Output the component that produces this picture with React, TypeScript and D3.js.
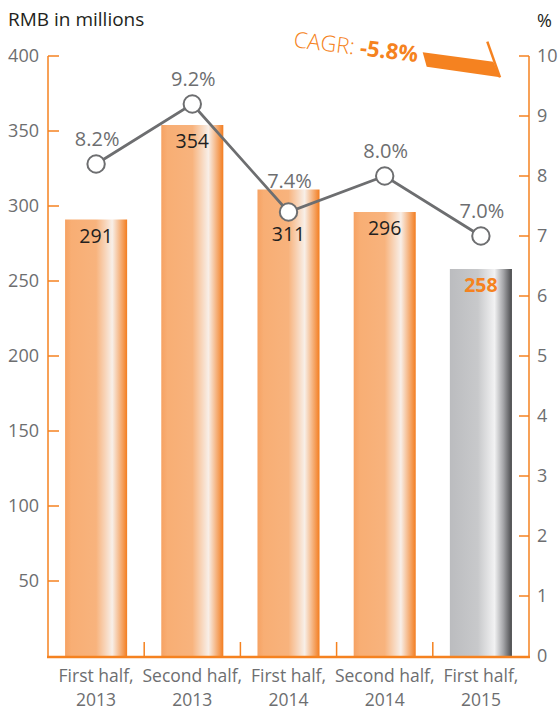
import React from "react";
import * as d3 from "d3";

const categories = ["First half, 2013", "Second half, 2013", "First half, 2014", "Second half, 2014", "First half, 2015"];
const revenue = [291, 354, 311, 296, 258];
const growth = [8.2, 9.2, 7.4, 8.0, 7.0];
const leftTicks = [50, 100, 150, 200, 250, 300, 350, 400];
const rightTicks = [0, 1, 2, 3, 4, 5, 6, 7, 8, 9, 10];
const highlightIndex = 4;
const leftTitle = "RMB in millions";
const rightTitle = "%";
const cagrLabel = "CAGR: ";
const cagrValue = "-5.8%";

const W = 560;
const H = 710;
const ORANGE = "#F58220";
const GRAY = "#6D6E70";
const DARK = "#231F20";
const FONT = "'Open Sans', 'Noto Sans', sans-serif";

export default function App() {
  const x = d3.scaleBand<string>().domain(categories).range([48, 529]).paddingInner(0.355).paddingOuter(0.1775);
  const yL = d3.scaleLinear().domain([0, 400]).range([656, 56]);
  const yR = d3.scaleLinear().domain([0, 10]).range([656, 56]);
  const baseY = 657;
  const step = x.step();
  const bw = x.bandwidth();
  const cx = (c: string) => (x(c) ?? 0) + bw / 2;
  const R = 8.7;

  const line = d3
    .line<number>()
    .x((_, i) => cx(categories[i]))
    .y((d) => yR(d));

  return (
    <svg width={W} height={H} style={{ position: "absolute", left: 0, top: 0, fontFamily: FONT }}>
      <defs>
        <linearGradient id="gOrange" x1="0" x2="1" y1="0" y2="0">
          <stop offset="0" stopColor="#F6A263" />
          <stop offset="0.1" stopColor="#F8AE74" />
          <stop offset="0.5" stopColor="#F8B37D" />
          <stop offset="0.76" stopColor="#F8EFE8" />
          <stop offset="1" stopColor="#F37D20" />
        </linearGradient>
        <linearGradient id="gGray" x1="0" x2="1" y1="0" y2="0">
          <stop offset="0" stopColor="#BBBCBF" />
          <stop offset="0.45" stopColor="#C8C9CB" />
          <stop offset="0.72" stopColor="#F2F2F3" />
          <stop offset="0.86" stopColor="#A5A6A9" />
          <stop offset="1" stopColor="#48494B" />
        </linearGradient>
      </defs>

      {/* titles */}
      <text x={8} y={26} fontSize={19} fill={DARK}>{leftTitle}</text>
      <text x={537} y={27} fontSize={18} fill={DARK}>{rightTitle}</text>

      {/* bars */}
      {categories.map((c, i) => (
        <rect
          key={c}
          x={x(c)}
          y={yL(revenue[i])}
          width={bw}
          height={yL(0) - yL(revenue[i])}
          fill={i === highlightIndex ? "url(#gGray)" : "url(#gOrange)"}
        />
      ))}

      {/* bar value labels */}
      {categories.map((c, i) => {
        const top = yL(revenue[i]);
        const py = yR(growth[i]);
        const yy = py + R > top ? Math.max(top + 23, py + 29) : top + 23;
        return (
          <text
            key={"v" + c}
            x={cx(c)}
            y={yy}
            textAnchor="middle"
            fontSize={19.5}
            fontWeight={i === highlightIndex ? 700 : 400}
            fill={i === highlightIndex ? ORANGE : DARK}
          >
            {revenue[i]}
          </text>
        );
      })}

      {/* left axis */}
      <line x1={48} x2={48} y1={yL(400)} y2={baseY} stroke={ORANGE} strokeWidth={1.5} />
      {leftTicks.map((t) => (
        <g key={"l" + t}>
          <line x1={48} x2={59} y1={yL(t)} y2={yL(t)} stroke={ORANGE} strokeWidth={1.5} />
          <text x={39} y={yL(t)} dy="0.36em" textAnchor="end" fontSize={18} fill={GRAY}>{t}</text>
        </g>
      ))}

      {/* right axis */}
      <line x1={529} x2={529} y1={yR(10)} y2={baseY} stroke={ORANGE} strokeWidth={1.5} />
      {rightTicks.map((t) => (
        <g key={"r" + t}>
          {t > 0 && <line x1={519} x2={529} y1={yR(t)} y2={yR(t)} stroke={ORANGE} strokeWidth={1.5} />}
          <text x={537} y={yR(t)} dy="0.36em" textAnchor="start" fontSize={18} fill={GRAY}>{t}</text>
        </g>
      ))}

      {/* baseline + separators */}
      <line x1={47} x2={530} y1={baseY} y2={baseY} stroke={ORANGE} strokeWidth={2.5} />
      {categories.slice(1).map((c, i) => (
        <line key={"s" + c} x1={48 + (i + 1) * step} x2={48 + (i + 1) * step} y1={baseY} y2={baseY - 15} stroke={ORANGE} strokeWidth={1.5} />
      ))}

      {/* category labels */}
      {categories.map((c) => {
        const parts = c.split(", ");
        return (
          <g key={"c" + c}>
            <text x={cx(c)} y={682} textAnchor="middle" fontSize={17.5} fill={GRAY}>{parts[0] + ","}</text>
            <text x={cx(c)} y={706} textAnchor="middle" fontSize={17.5} fill={GRAY}>{parts[1]}</text>
          </g>
        );
      })}

      {/* growth line */}
      <path d={line(growth) ?? ""} fill="none" stroke={GRAY} strokeWidth={2.8} />
      {growth.map((g, i) => (
        <circle key={"p" + i} cx={cx(categories[i])} cy={yR(g)} r={R} fill="#fff" stroke={GRAY} strokeWidth={2} />
      ))}
      {growth.map((g, i) => {
        const yy = Math.min(yR(g) - 18, yL(revenue[i]) - 2);
        return (
          <text key={"g" + i} x={cx(categories[i]) + 1} y={yy} textAnchor="middle" fontSize={20} fill={GRAY}>
            {g.toFixed(1) + "%"}
          </text>
        );
      })}

      {/* CAGR annotation */}
      <g transform="translate(293,47) rotate(7)">
        <text x={0} y={0} fontSize={22} fill={ORANGE}>
          <tspan fontWeight={300}>{cagrLabel}</tspan>
          <tspan fontWeight={700}>{cagrValue}</tspan>
        </text>
      </g>
      <polygon points="422.7,52.3 493.3,61.7 500,77.3 426.7,66.7" fill={ORANGE} />
      <line x1={487.3} y1={41.7} x2={500} y2={77.3} stroke={ORANGE} strokeWidth={2.5} />
    </svg>
  );
}
